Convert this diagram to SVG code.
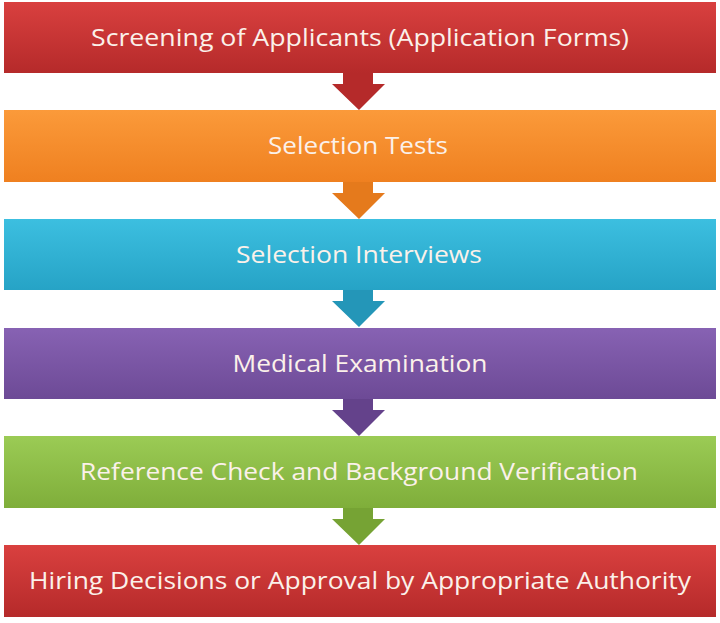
<svg xmlns="http://www.w3.org/2000/svg" width="720" height="623" viewBox="0 0 720 623">
<defs>
<linearGradient id="gr" x1="0" y1="0" x2="0" y2="1"><stop offset="0" stop-color="#d9403f"/><stop offset="1" stop-color="#b52a2a"/></linearGradient>
<linearGradient id="go" x1="0" y1="0" x2="0" y2="1"><stop offset="0" stop-color="#fb9a3a"/><stop offset="1" stop-color="#ef8020"/></linearGradient>
<linearGradient id="gb" x1="0" y1="0" x2="0" y2="1"><stop offset="0" stop-color="#3cbfe0"/><stop offset="1" stop-color="#26a3c6"/></linearGradient>
<linearGradient id="gp" x1="0" y1="0" x2="0" y2="1"><stop offset="0" stop-color="#8762b3"/><stop offset="1" stop-color="#6d4a96"/></linearGradient>
<linearGradient id="gg" x1="0" y1="0" x2="0" y2="1"><stop offset="0" stop-color="#9bcb55"/><stop offset="1" stop-color="#7fae3a"/></linearGradient>
<path id="arr" d="M343,0 H373 V11 H385 L359,37 L332,11 H343 Z"/>
</defs>
<style>
text{font-family:"Open Sans","Liberation Sans",sans-serif;font-size:24px;fill:#fbf1ea;text-anchor:middle}
</style>
<rect width="720" height="623" fill="#fff"/>
<g id="connectors">
<use href="#arr" y="73" fill="#b52a2a"/>
<use href="#arr" y="182" fill="#e57a1c"/>
<use href="#arr" y="290" fill="#2496b8"/>
<use href="#arr" y="399" fill="#64428b"/>
<use href="#arr" y="508" fill="#76a334"/>
</g>
<g id="n1"><rect x="4" y="2" width="712" height="71" fill="url(#gr)"/><text x="360" y="46" textLength="538" lengthAdjust="spacingAndGlyphs">Screening of Applicants (Application Forms)</text></g>
<g id="n2"><rect x="4" y="110" width="712" height="72" fill="url(#go)"/><text x="358" y="154" textLength="180" lengthAdjust="spacingAndGlyphs">Selection Tests</text></g>
<g id="n3"><rect x="4" y="219" width="712" height="71" fill="url(#gb)"/><text x="359" y="263" textLength="246" lengthAdjust="spacingAndGlyphs">Selection Interviews</text></g>
<g id="n4"><rect x="4" y="328" width="712" height="71" fill="url(#gp)"/><text x="360" y="372" textLength="255" lengthAdjust="spacingAndGlyphs">Medical Examination</text></g>
<g id="n5"><rect x="4" y="436" width="712" height="72" fill="url(#gg)"/><text x="359" y="480" textLength="558" lengthAdjust="spacingAndGlyphs">Reference Check and Background Verification</text></g>
<g id="n6"><rect x="4" y="545" width="712" height="72" fill="url(#gr)"/><text x="360" y="589" textLength="662" lengthAdjust="spacingAndGlyphs">Hiring Decisions or Approval by Appropriate Authority</text></g>
</svg>
